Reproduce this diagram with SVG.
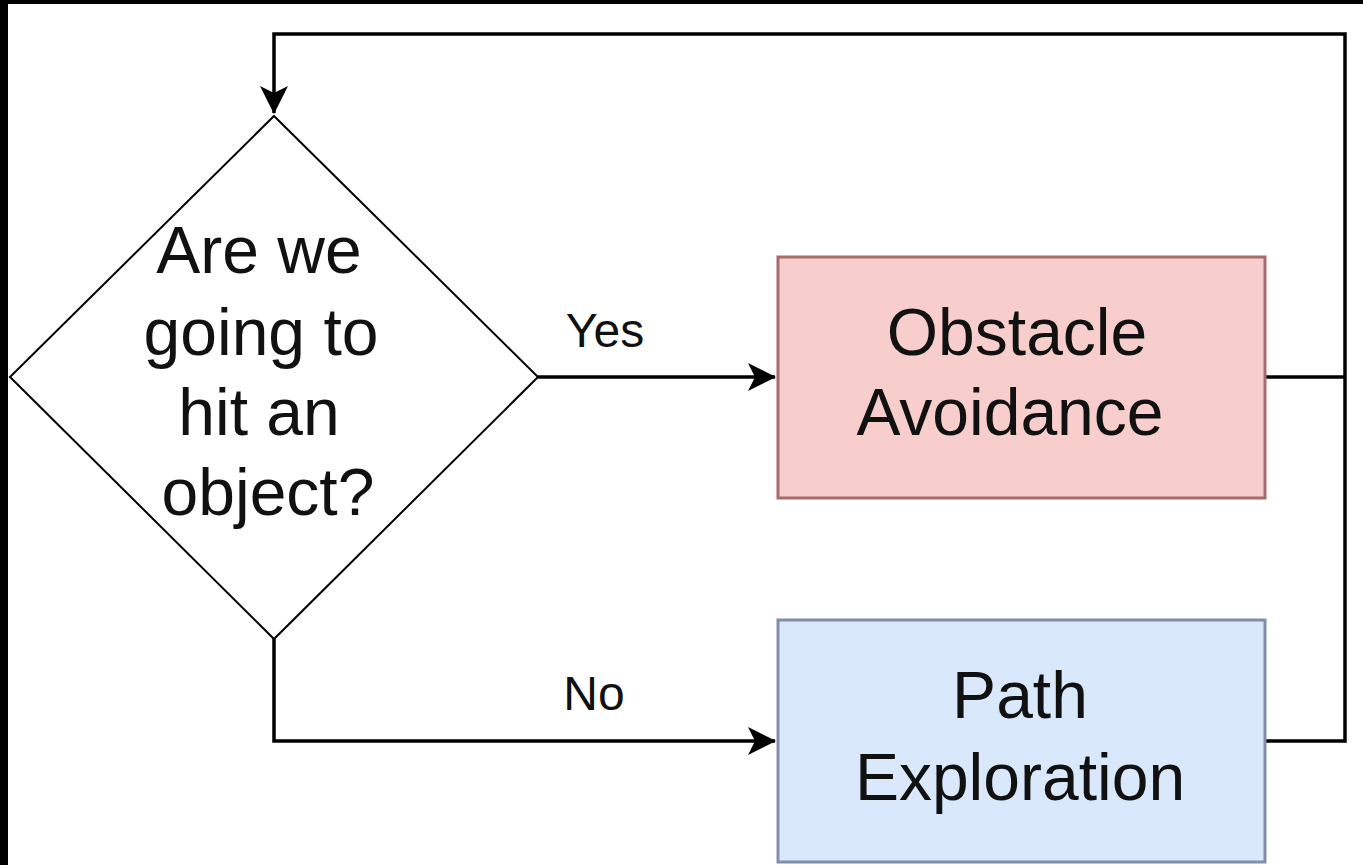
<svg xmlns="http://www.w3.org/2000/svg" width="1363" height="865" viewBox="0 0 1363 865">
  <style>
    .lbl { font-family: "Liberation Sans", Arial, sans-serif; fill: #111; text-anchor: middle; }
    .big { font-size: 66px; }
    .small { font-size: 48px; }
    .edge { fill: none; stroke: #000; stroke-width: 3.5; }
  </style>
  <defs>
    <marker id="arrow" viewBox="0 0 28 28" markerWidth="28" markerHeight="28" refX="27" refY="14" orient="auto" markerUnits="userSpaceOnUse">
      <path d="M0,0 L28,14 L0,28 L7,14 Z" fill="#000"/>
    </marker>
  </defs>
  <rect x="0" y="0" width="1363" height="865" fill="#fff"/>
  <rect x="0" y="0" width="1363" height="4" fill="#000"/>
  <rect x="0" y="0" width="8" height="865" fill="#000"/>

  <g id="connectors">
    <path class="edge" d="M538,377 L775,377" marker-end="url(#arrow)"/>
    <path class="edge" d="M274,639 L274,741 L775,741" marker-end="url(#arrow)"/>
    <path class="edge" d="M1265,377 L1345,377"/>
    <path class="edge" d="M1265,741 L1345,741 L1345,34 L274,34 L274,113" marker-end="url(#arrow)"/>
    <text class="lbl small" x="605" y="347">Yes</text>
    <text class="lbl small" x="594" y="710">No</text>
  </g>

  <g id="decision">
    <polygon points="274,116 538,377 274,639 10,377" fill="#fff" stroke="#000" stroke-width="2"/>
    <text class="lbl big" x="259" y="273">Are we</text>
    <text class="lbl big" x="261" y="355">going to</text>
    <text class="lbl big" x="259" y="435">hit an</text>
    <text class="lbl big" x="268" y="515">object?</text>
  </g>

  <g id="obstacle">
    <rect x="778" y="257" width="487" height="241" fill="#f8cecc" stroke="#a86a6a" stroke-width="3"/>
    <text class="lbl big" x="1017" y="355">Obstacle</text>
    <text class="lbl big" x="1010" y="435">Avoidance</text>
  </g>

  <g id="path">
    <rect x="778" y="620" width="487" height="242" fill="#dae8fc" stroke="#7f8fa8" stroke-width="3"/>
    <text class="lbl big" x="1020" y="718">Path</text>
    <text class="lbl big" x="1020" y="800">Exploration</text>
  </g>
</svg>
